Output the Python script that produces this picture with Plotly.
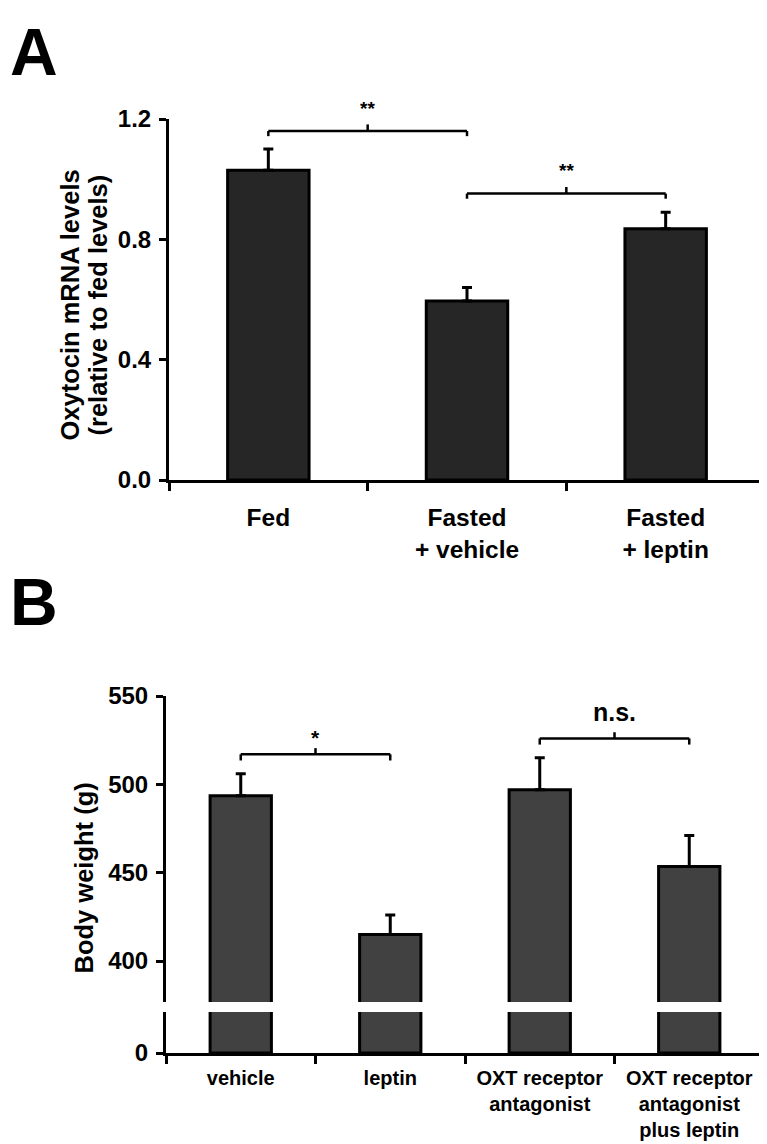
import plotly.graph_objects as go

# ---------------- data ----------------
cats_a = ["Fed", "Fasted<br>+ vehicle", "Fasted<br>+ leptin"]
vals_a = [1.03, 0.595, 0.835]
err_a = [0.07, 0.045, 0.055]
ticks_a = [0.0, 0.4, 0.8, 1.2]
ticktext_a = ["0.0", "0.4", "0.8", "1.2"]
title_a = ["Oxytocin mRNA levels", "(relative to fed levels)"]

cats_b = ["vehicle", "leptin", "OXT receptor<br>antagonist", "OXT receptor<br>antagonist<br>plus leptin"]
vals_b = [493.5, 415.0, 497.0, 453.5]
err_b = [12.5, 11.0, 18.0, 17.5]
ticks_b_upper = [400, 450, 500, 550]
ticks_b_lower = [0]
title_b = "Body weight (g)"

# significance brackets: (from index, to index, bracket level, label)
sig_a = [(0, 1, 1.16, "**"), (1, 2, 0.952, "**")]
sig_b = [(0, 1, 517.0, "*"), (2, 3, 526.0, "n.s.")]

# ---------------- layout geometry ----------------
W, H = 767, 1144
def py(px):
    return 1 - px / H
def pxx(px):
    return px / W

FONT = "Liberation Sans, Arial, sans-serif"
COL_A = "#262626"
COL_B = "#414141"

fig = go.Figure()

fig.add_trace(go.Bar(
    x=cats_a, y=vals_a, width=0.41,
    marker=dict(color=COL_A, line=dict(color="black", width=3)),
    error_y=dict(type="data", symmetric=False, array=err_a, arrayminus=[0] * len(err_a),
                 color="black", thickness=3, width=5),
    xaxis="x", yaxis="y", showlegend=False,
))

for ax_x, ax_y in (("x2", "y2"), ("x3", "y3")):
    fig.add_trace(go.Bar(
        x=cats_b, y=vals_b, width=0.41,
        marker=dict(color=COL_B, line=dict(color="black", width=3)),
        error_y=dict(type="data", symmetric=False, array=err_b, arrayminus=[0] * len(err_b),
                     color="black", thickness=3, width=5,
                     visible=(ax_y == "y3")),
        xaxis=ax_x, yaxis=ax_y, showlegend=False,
    ))

tickfont = dict(family=FONT, size=24, color="black", weight="bold")
titlefont = dict(family=FONT, size=25.5, color="black", weight="bold")

axis_common = dict(showline=True, linewidth=3, linecolor="black",
                   ticks="outside", tickwidth=3, tickcolor="black",
                   showgrid=False, zeroline=False, automargin=False)

# pixel geometry
A_LEFT, A_RIGHT, A_TOP, A_BOTTOM = 161, 757, 111, 472
B_LEFT, B_RIGHT = 158, 756
B_TOP, B_BREAK_TOP, B_BREAK_BOTTOM, B_BOTTOM = 688, 994, 1004, 1045
B_UPPER_MIN = 376.8

fig.update_layout(
    width=W, height=H,
    margin=dict(l=0, r=0, t=0, b=0, autoexpand=False),
    paper_bgcolor="white", plot_bgcolor="white",
    xaxis=dict(domain=[pxx(A_LEFT), pxx(A_RIGHT)], anchor="y", type="category",
               ticklen=8, tickson="boundaries", tickangle=0,
               tickfont=dict(family=FONT, size=24.5, color="black", weight="bold"),
               ticklabelstandoff=14, **axis_common),
    yaxis=dict(domain=[py(A_BOTTOM), py(A_TOP)], anchor="x", range=[0, 1.2],
               tickvals=ticks_a, ticktext=ticktext_a, ticklen=7,
               tickfont=tickfont, ticklabelstandoff=3, **axis_common),
    xaxis2=dict(domain=[pxx(B_LEFT), pxx(B_RIGHT)], anchor="y2", type="category",
                ticklen=8, tickson="boundaries", tickangle=0,
                tickfont=dict(family=FONT, size=20, color="black", weight="bold"),
                ticklabelstandoff=5, **axis_common),
    yaxis2=dict(domain=[py(B_BOTTOM), py(B_BREAK_BOTTOM)], anchor="x2", range=[0, 20],
                tickvals=ticks_b_lower, ticklen=7,
                tickfont=tickfont, ticklabelstandoff=3, **axis_common),
    xaxis3=dict(domain=[pxx(B_LEFT), pxx(B_RIGHT)], anchor="y3", type="category",
                matches="x2", visible=False, showgrid=False, automargin=False),
    yaxis3=dict(domain=[py(B_BREAK_TOP), py(B_TOP)], anchor="x3", range=[B_UPPER_MIN, 550],
                tickvals=ticks_b_upper, ticklen=7,
                tickfont=tickfont, ticklabelstandoff=3, **axis_common),
)

# axis titles (rotated)
for xpos, line in zip((62, 90), title_a):
    fig.add_annotation(xref="paper", yref="paper", x=pxx(xpos), y=py((A_TOP + A_BOTTOM) / 2 + 6),
                       text=line, textangle=-90, showarrow=False,
                       font=titlefont, xanchor="center", yanchor="middle")
fig.add_annotation(xref="paper", yref="paper", x=pxx(75), y=py((B_TOP + B_BOTTOM) / 2 + 4),
                   text=title_b, textangle=-90, showarrow=False,
                   font=titlefont, xanchor="center", yanchor="middle")

def bracket(xref, yref, i0, i1, level, label, drop, rise, text_shift, font):
    lw = 2.5
    xm = (i0 + i1) / 2
    for x0, y0, x1, y1 in ((i0, level, i1, level),
                           (i0, level, i0, level - drop),
                           (i1, level, i1, level - drop),
                           (xm, level, xm, level + rise)):
        fig.add_shape(type="line", xref=xref, yref=yref, x0=x0, x1=x1, y0=y0, y1=y1,
                      line=dict(color="black", width=lw))
    fig.add_annotation(xref=xref, yref=yref, x=xm, y=level, text=label,
                       showarrow=False, font=font, yanchor="middle", yshift=text_shift)

for i0, i1, lev, lab in sig_a:
    bracket("x", "y", i0, i1, lev, lab, 0.017, 0.022, 23,
            dict(family=FONT, size=19, color="black", weight="bold"))
for i0, i1, lev, lab in sig_b:
    if lab == "n.s.":
        f = dict(family=FONT, size=25, color="black", weight="bold")
        sh = 26
    else:
        f = dict(family=FONT, size=21, color="black", weight="bold")
        sh = 17
    bracket("x3", "y3", i0, i1, lev, lab, 3.5, 3.5, sh, f)

# panel letters
fig.add_annotation(xref="paper", yref="paper", x=0.0, y=py(44), text="A", showarrow=False,
                   font=dict(family=FONT, size=66, color="black", weight="bold"),
                   xanchor="left", yanchor="middle")
fig.add_annotation(xref="paper", yref="paper", x=0.0, y=py(594), text="B", showarrow=False,
                   font=dict(family=FONT, size=66, color="black", weight="bold"),
                   xanchor="left", yanchor="middle")

fig.write_html("out.html")
